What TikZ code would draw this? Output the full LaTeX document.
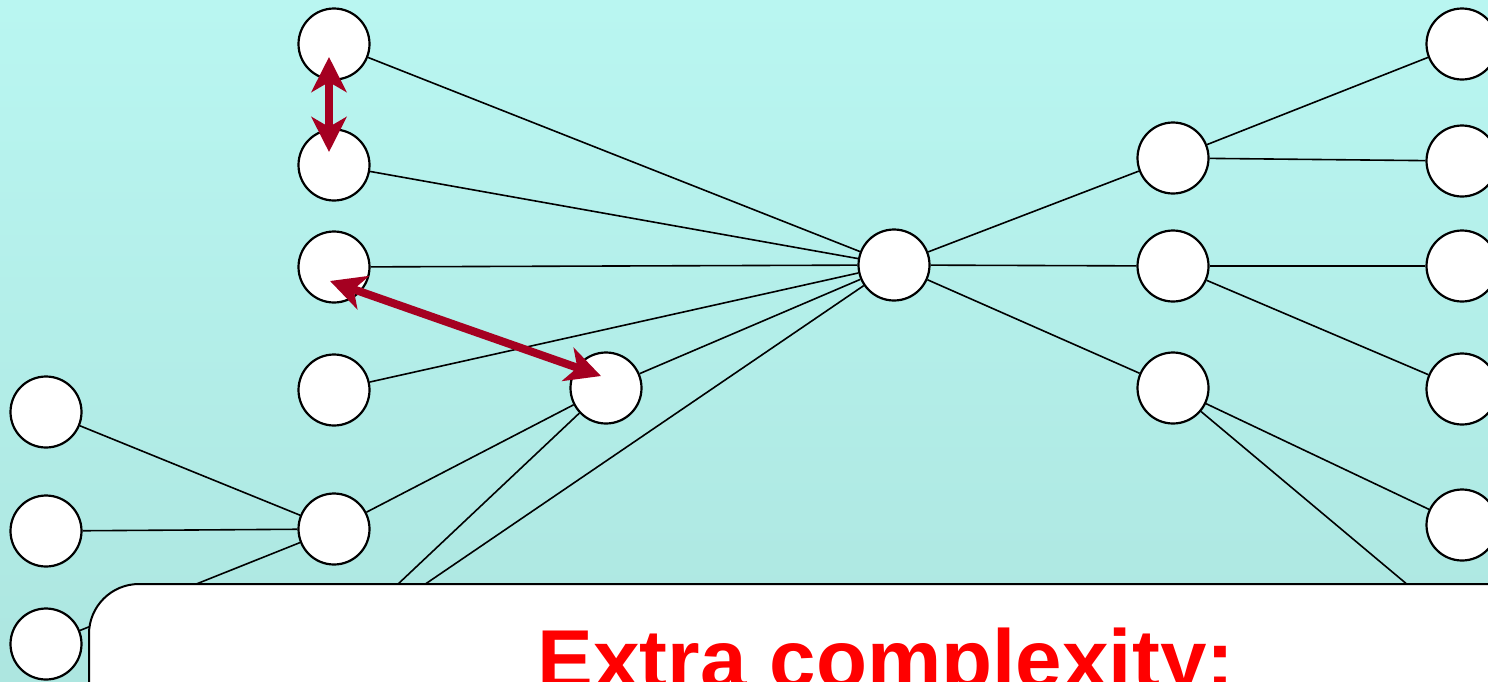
\documentclass[tikz,border=0pt]{standalone}
\usepackage{fontspec}
\setmainfont{Liberation Sans}
\usetikzlibrary{arrows.meta,calc}
\definecolor{bgtop}{HTML}{B9F6F1}
\definecolor{bgbot}{HTML}{ADE6E0}
\definecolor{linkred}{HTML}{A50021}
\definecolor{titlered}{HTML}{FF0000}
\tikzset{
  vertex/.style={circle, draw=black, fill=white, line width=2.2pt, minimum size=71pt, inner sep=0pt},
  edge/.style={draw=black, line width=1.6pt},
  hop/.style={draw=linkred, line width=8pt,
    {Stealth[length=35pt,width=35pt,inset=10pt]}-{Stealth[length=35pt,width=35pt,inset=10pt]}},
  panel/.style={draw=black, fill=white, line width=2pt, rounded corners=50pt},
  title/.style={text=titlered, font=\bfseries\fontsize{83.6}{100}\selectfont, inner sep=0pt, anchor=base}
}
\begin{document}
\begin{tikzpicture}[x=1pt, y=-1pt]
  \useasboundingbox (0,0) rectangle (1488,681);
  % background
  \shade[top color=bgtop, bottom color=bgbot] (0,0) rectangle (1488,681);

  % far-left column
  \node[vertex] (l1) at (46,412) {};
  \node[vertex] (l2) at (46,531) {};
  \node[vertex] (l3) at (46,644) {};
  % second column
  \node[vertex] (a1) at (334,44) {};
  \node[vertex] (a2) at (334,165) {};
  \node[vertex] (a3) at (334,267) {};
  \node[vertex] (a4) at (334,390) {};
  \node[vertex] (a5) at (334,529) {};
  % middle
  \node[vertex] (m) at (606,388) {};
  \node[vertex] (hub) at (894,265) {};
  % right-inner column
  \node[vertex] (b1) at (1173,158) {};
  \node[vertex] (b2) at (1173,266) {};
  \node[vertex] (b3) at (1173,388) {};
  % far-right column
  \node[vertex] (r1) at (1462,44) {};
  \node[vertex] (r2) at (1462,161) {};
  \node[vertex] (r3) at (1462,266) {};
  \node[vertex] (r4) at (1462,389) {};
  \node[vertex] (r5) at (1462,525) {};

  % ends of links that run on below the panel
  \coordinate (hubdown) at (255,700);
  \coordinate (mdown) at (275,700);
  \coordinate (b3down) at (1545,700);

  % links
  \begin{scope}[every path/.style=edge]
    \draw (a1) -- (hub);
    \draw (a2) -- (hub);
    \draw (a3) -- (hub);
    \draw (a4) -- (hub);
    \draw (m) -- (hub);
    \draw (hub) -- (hubdown);
    \draw (m) -- (a5);
    \draw (m) -- (mdown);
    \draw (a5) -- (l1);
    \draw (a5) -- (l2);
    \draw (a5) -- (l3);
    \draw (hub) -- (b1);
    \draw (hub) -- (b2);
    \draw (hub) -- (b3);
    \draw (b1) -- (r1);
    \draw (b1) -- (r2);
    \draw (b2) -- (r3);
    \draw (b2) -- (r4);
    \draw (b3) -- (r5);
    \draw (b3) -- (b3down);
  \end{scope}

  % highlighted hops
  \draw[hop] ($(a1)+(-5,13)$) -- ($(a2)+(-5,-13)$);
  \draw[hop] ($(a3)+(-4,14)$) -- ($(m)+(-5,-12)$);

  % caption panel
  \draw[panel] (89,584) rectangle (1560,780);
  \node[title] (caption) at (886,688) {Extra complexity:};
\end{tikzpicture}
\end{document}
